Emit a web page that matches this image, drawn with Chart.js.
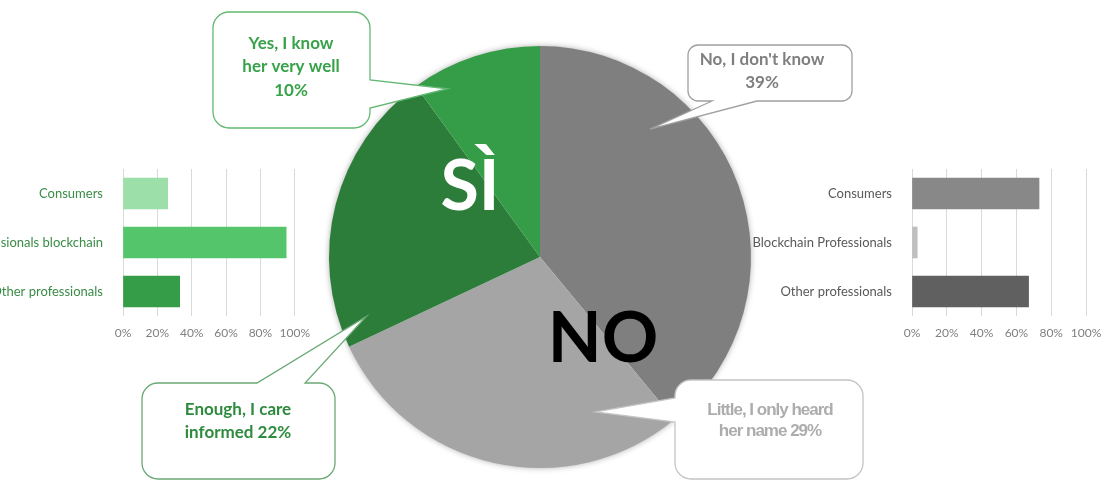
<!DOCTYPE html>
<html>
<head>
<meta charset="utf-8">
<script src="https://cdn.jsdelivr.net/npm/chart.js@4"></script>
<style>
  html, body { margin: 0; padding: 0; background: #fff; }
  #stage { position: relative; width: 1112px; height: 482px; overflow: hidden; }
  #stage canvas { position: absolute; }
</style>
</head>
<body>
<div id="stage">
  <canvas id="pie" width="1112" height="482" style="left:0;top:0"></canvas>
  <canvas id="yesBars" width="320" height="190" style="left:0;top:160px"></canvas>
  <canvas id="noBars" width="372" height="190" style="left:740px;top:160px"></canvas>
</div>
<script>
(function () {
  // ---- data ----
  const pieLabels = ["No, I don't know", 'Little, I only heard her name', 'Enough, I care informed', 'Yes, I know her very well'];
  const pieValues = [39, 29, 22, 10];
  const yesGroups = ['Consumers', 'Professionals blockchain', 'Other professionals'];
  const yesShares = [26, 95, 33];
  const noGroups = ['Consumers', 'Blockchain Professionals', 'Other professionals'];
  const noShares = [73, 3, 67];
  const pctTicks = [0, 20, 40, 60, 80, 100];

  // ---- colours ----
  const pieColors = ['#7f7f7f', '#a5a5a5', '#2c7c3a', '#359c48'];
  const yesColors = ['#9ddfa8', '#55c56c', '#359c48'];
  const noColors = ['#888888', '#bfbfbf', '#606060'];

  Chart.defaults.font.family = 'Lato, "Open Sans", sans-serif';

  // ---- horizontal bar helper ----
  function barChart(id, groups, shares, colors, labelColor, axisWidth, labelPad, rightPad) {
    return new Chart(document.getElementById(id), {
      type: 'bar',
      data: {
        labels: groups,
        datasets: [{ data: shares, backgroundColor: colors, borderWidth: 0, barThickness: 31 }]
      },
      options: {
        indexAxis: 'y',
        responsive: false,
        animation: false,
        layout: { padding: { top: 9, right: rightPad, bottom: 0, left: 0 } },
        plugins: { legend: { display: false }, tooltip: { enabled: false } },
        scales: {
          x: {
            min: 0, max: 100,
            afterBuildTicks: s => { s.ticks = pctTicks.map(v => ({ value: v })); },
            ticks: { callback: v => v + '%', color: '#7f7f7f', font: { size: 12 }, padding: 10, maxRotation: 0, autoSkip: false },
            grid: { color: '#d9d9d9', drawTicks: false },
            border: { display: false },
            afterFit: s => { s.height = 34; }
          },
          y: {
            ticks: { color: labelColor, font: { size: 13 }, padding: labelPad },
            grid: { display: false },
            border: { display: false },
            // fixed label column, no extra label padding above/below the bars
            afterFit: s => { s.width = axisWidth; s.paddingTop = 0; s.paddingBottom = 0; }
          }
        }
      }
    });
  }

  barChart('yesBars', yesGroups, yesShares, yesColors, '#3a8c47', 123, 12, 22);
  barChart('noBars', noGroups, noShares, noColors, '#595959', 172, 12, 26);

  // ---- pie: soft shadow under the disc ----
  const pieShadow = {
    id: 'pieShadow',
    beforeDatasetsDraw(chart) {
      const arc = chart.getDatasetMeta(0).data[0];
      if (!arc) return;
      const ctx = chart.ctx;
      ctx.save();
      ctx.shadowColor = 'rgba(0,0,0,0.35)';
      ctx.shadowBlur = 6;
      ctx.fillStyle = '#ffffff';
      ctx.beginPath();
      ctx.arc(arc.x, arc.y, arc.outerRadius - 0.5, 0, Math.PI * 2);
      ctx.fill();
      ctx.restore();
    }
  };

  // ---- big SÌ / NO words over the two halves ----
  const bigWords = {
    id: 'bigWords',
    afterDatasetsDraw(chart) {
      const arc = chart.getDatasetMeta(0).data[0];
      const ctx = chart.ctx;
      ctx.save();
      ctx.textAlign = 'center';
      ctx.textBaseline = 'alphabetic';
      ctx.font = 'bold 70px Lato, sans-serif';
      ctx.fillStyle = '#ffffff';
      ctx.fillText('SÌ', arc.x - 70, arc.y - 47);
      ctx.fillStyle = '#000000';
      ctx.fillText('NO', arc.x + 63, arc.y + 105);
      ctx.restore();
    }
  };

  // ---- speech-bubble callouts ----
  const callouts = [
    { i: 3, box: { x: 213, y: 12, w: 157, h: 116, r: 16 }, side: 'right', base: [80, 108], t: 0.2, rf: 0.91,
      lines: ['Yes, I know', 'her very well', pieValues[3] + '%'], cx: 291, ys: [44, 67, 91],
      color: '#37a24a', stroke: '#62b872', font: 'bold 17px Lato, sans-serif', spacing: '0px' },
    { i: 0, box: { x: 688, y: 45, w: 164, h: 56, r: 10 }, side: 'bottom', base: [712, 757], t: 0.29, rf: 0.8,
      lines: ["No, I don't know", pieValues[0] + '%'], cx: 762, ys: [60, 83],
      color: '#7f7f7f', stroke: '#a0a0a0', font: 'bold 17px Lato, sans-serif', spacing: '0px' },
    { i: 2, box: { x: 142, y: 383, w: 193, h: 96, r: 16 }, side: 'top', base: [257, 305], t: 0.08, rf: 0.87,
      lines: ['Enough, I care', 'informed ' + pieValues[2] + '%'], cx: 238, ys: [410, 433],
      color: '#2e8b3e', stroke: '#6aa874', font: 'bold 17px Lato, sans-serif', spacing: '0px' },
    { i: 1, box: { x: 675, y: 380, w: 188, h: 99, r: 16 }, side: 'left', base: [398, 422], t: 0.19, rf: 0.78,
      lines: ['Little, I only heard', 'her name ' + pieValues[1] + '%'], cx: 770, ys: [410, 431],
      color: '#adadad', stroke: '#c4c4c4', font: 'bold 17px "Liberation Sans", Arial, sans-serif', spacing: '-1px' }
  ];

  function bubblePath(ctx, b, side, a1, a2, tip) {
    const { x, y, w, h, r } = b;
    ctx.beginPath();
    ctx.moveTo(x + r, y);
    if (side === 'top') { ctx.lineTo(a1, y); ctx.lineTo(tip.x, tip.y); ctx.lineTo(a2, y); }
    ctx.lineTo(x + w - r, y);
    ctx.arcTo(x + w, y, x + w, y + r, r);
    if (side === 'right') { ctx.lineTo(x + w, a1); ctx.lineTo(tip.x, tip.y); ctx.lineTo(x + w, a2); }
    ctx.lineTo(x + w, y + h - r);
    ctx.arcTo(x + w, y + h, x + w - r, y + h, r);
    if (side === 'bottom') { ctx.lineTo(a2, y + h); ctx.lineTo(tip.x, tip.y); ctx.lineTo(a1, y + h); }
    ctx.lineTo(x + r, y + h);
    ctx.arcTo(x, y + h, x, y + h - r, r);
    if (side === 'left') { ctx.lineTo(x, a2); ctx.lineTo(tip.x, tip.y); ctx.lineTo(x, a1); }
    ctx.lineTo(x, y + r);
    ctx.arcTo(x, y, x + r, y, r);
    ctx.closePath();
  }

  const calloutPlugin = {
    id: 'callouts',
    afterDatasetsDraw(chart) {
      const meta = chart.getDatasetMeta(0);
      const ctx = chart.ctx;
      callouts.forEach(c => {
        const arc = meta.data[c.i];
        const a = arc.startAngle + c.t * (arc.endAngle - arc.startAngle);
        const tip = {
          x: arc.x + Math.cos(a) * arc.outerRadius * c.rf,
          y: arc.y + Math.sin(a) * arc.outerRadius * c.rf
        };
        ctx.save();
        bubblePath(ctx, c.box, c.side, c.base[0], c.base[1], tip);
        ctx.fillStyle = '#ffffff';
        ctx.fill();
        ctx.lineWidth = 1.3;
        ctx.strokeStyle = c.stroke;
        ctx.stroke();
        ctx.fillStyle = c.color;
        ctx.font = c.font;
        ctx.letterSpacing = c.spacing;
        ctx.textAlign = 'center';
        ctx.textBaseline = 'middle';
        c.lines.forEach((ln, k) => ctx.fillText(ln, c.cx, c.ys[k]));
        ctx.restore();
      });
    }
  };

  // ---- pie ----
  new Chart(document.getElementById('pie'), {
    type: 'pie',
    data: {
      labels: pieLabels,
      datasets: [{ data: pieValues, backgroundColor: pieColors, borderWidth: 0, hoverOffset: 0, offset: 0 }]
    },
    options: {
      responsive: false,
      animation: false,
      layout: { padding: { left: 329, right: 361, top: 46, bottom: 14 } },
      plugins: { legend: { display: false }, tooltip: { enabled: false } }
    },
    plugins: [pieShadow, bigWords, calloutPlugin]
  });
})();
</script>
</body>
</html>
